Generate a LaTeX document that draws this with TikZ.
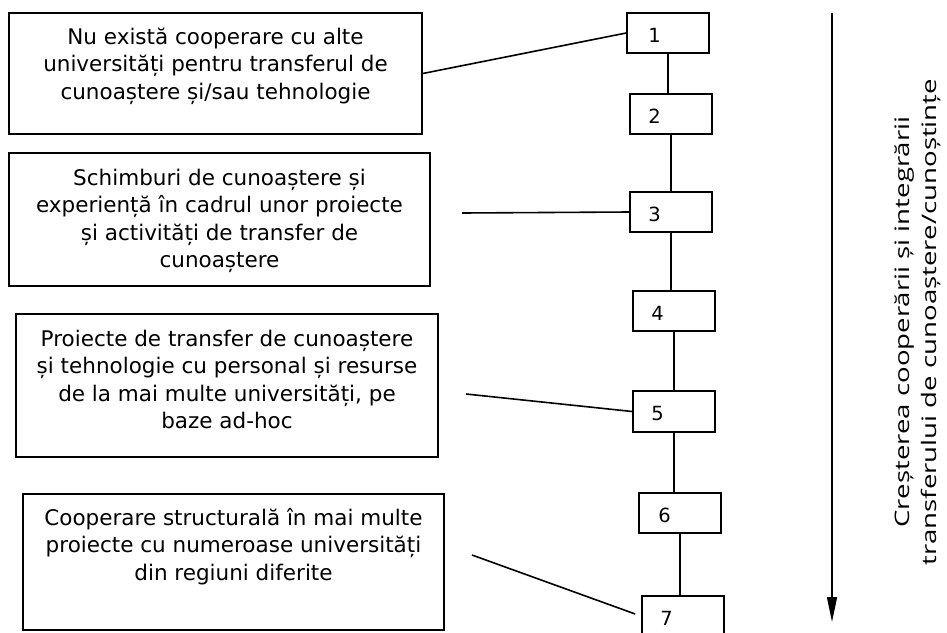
\documentclass[tikz,border=0pt]{standalone}
\usepackage{fontspec}
\usetikzlibrary{arrows.meta,calc}
\newfontfamily\boxfont{DejaVu Sans}
\newfontfamily\sidefont{Open Sans}
\begin{document}
\begin{tikzpicture}[x=1pt,y=-1pt,
  box/.style={draw,line width=1.6pt,inner sep=0pt},
  txt/.style={font=\boxfont\fontsize{21.5}{27.5}\selectfont,inner sep=0pt,anchor=base},
  num/.style={font=\boxfont\fontsize{19.5}{22}\selectfont,inner sep=0pt,anchor=base west},
  conn/.style={line width=1.6pt}]
\useasboundingbox (0,0) rectangle (947,632);
\clip (0,0) rectangle (947,632);
% text boxes
\node[box,minimum width=413pt,minimum height=121pt] (A) at (215.5,73.5) {};
\node[box,minimum width=421pt,minimum height=133pt] (B) at (219.5,219.5) {};
\node[box,minimum width=422pt,minimum height=143pt] (C) at (227,385.5) {};
\node[box,minimum width=421pt,minimum height=136pt] (D) at (233.5,562) {};
\node[txt] (At) at ($(A.north)+(0,32)$) {\begin{tabular}[t]{@{}c@{}}Nu există cooperare cu alte\\universități pentru transferul de\\cunoaștere și/sau tehnologie\end{tabular}};
\node[txt] (Bt) at ($(B.north)+(0,33)$) {\begin{tabular}[t]{@{}c@{}}Schimburi de cunoaștere și\\experiență în cadrul unor proiecte\\și activități de transfer de\\cunoaștere\end{tabular}};
\node[txt] (Ct) at ($(C.north)+(0,33)$) {\begin{tabular}[t]{@{}c@{}}Proiecte de transfer de cunoaștere\\și tehnologie cu personal și resurse\\de la mai multe universități, pe\\baze ad-hoc\end{tabular}};
\node[txt] (Dt) at ($(D.north)+(0,32)$) {\begin{tabular}[t]{@{}c@{}}Cooperare structurală în mai multe\\proiecte cu numeroase universități\\din regiuni diferite\end{tabular}};
% number boxes
\node[box,minimum width=82pt,minimum height=40pt] (n1) at (668,33) {};
\node[box,minimum width=82pt,minimum height=40pt] (n2) at (671,114) {};
\node[box,minimum width=82pt,minimum height=40pt] (n3) at (671,212) {};
\node[box,minimum width=82pt,minimum height=40pt] (n4) at (674,311) {};
\node[box,minimum width=82pt,minimum height=41pt] (n5) at (674,411.5) {};
\node[box,minimum width=82pt,minimum height=40pt] (n6) at (680,513) {};
\node[box,minimum width=82pt,minimum height=42pt] (n7) at (683,617) {};
\node[num] (l1) at ($(n1.north west)+(22,30)$) {1};
\node[num] (l2) at ($(n2.north west)+(19,30)$) {2};
\node[num] (l3) at ($(n3.north west)+(19,30)$) {3};
\node[num] (l4) at ($(n4.north west)+(19,30)$) {4};
\node[num] (l5) at ($(n5.north west)+(19,30)$) {5};
\node[num] (l6) at ($(n6.north west)+(20,30)$) {6};
\node[num] (l7) at ($(n7.north west)+(19,30)$) {7};
% vertical chain
\draw[conn] (n1.south) -- (n1.south |- n2.north);
\draw[conn] (n2.south) -- (n2.south |- n3.north);
\draw[conn] (n3.south) -- (n3.south |- n4.north);
\draw[conn] (n4.south) -- (n4.south |- n5.north);
\draw[conn] (n5.south) -- (n5.south |- n6.north);
\draw[conn] (n6.south) -- (n6.south |- n7.north);
% links from text boxes
\draw[conn] (A.east) -- (n1.west);
\coordinate (bc) at (462,213);
\draw[conn] (bc) -- (n3.west);
\coordinate (cc) at (466,394);
\draw[conn] (cc) -- (n5.west);
\coordinate (dc) at (472,555);
\draw[conn] (dc) -- ($(n7.west)+(-6,-3)$);
% arrow and side text
\coordinate (arTop) at (832,13);
\coordinate (arBot) at (832,622);
\draw[conn,-{Triangle[length=25pt,width=10pt]}] (arTop) -- (arBot);
\node[rotate=90,font=\sidefont\fontsize{20}{27}\selectfont,inner sep=0pt] (side) at (918,322) {\scalebox{1.38}[1]{\begin{tabular}{@{}c@{}}Creșterea cooperării și integrării\\transferului de cunoaștere/cunoștințe\end{tabular}}};
\end{tikzpicture}
\end{document}
